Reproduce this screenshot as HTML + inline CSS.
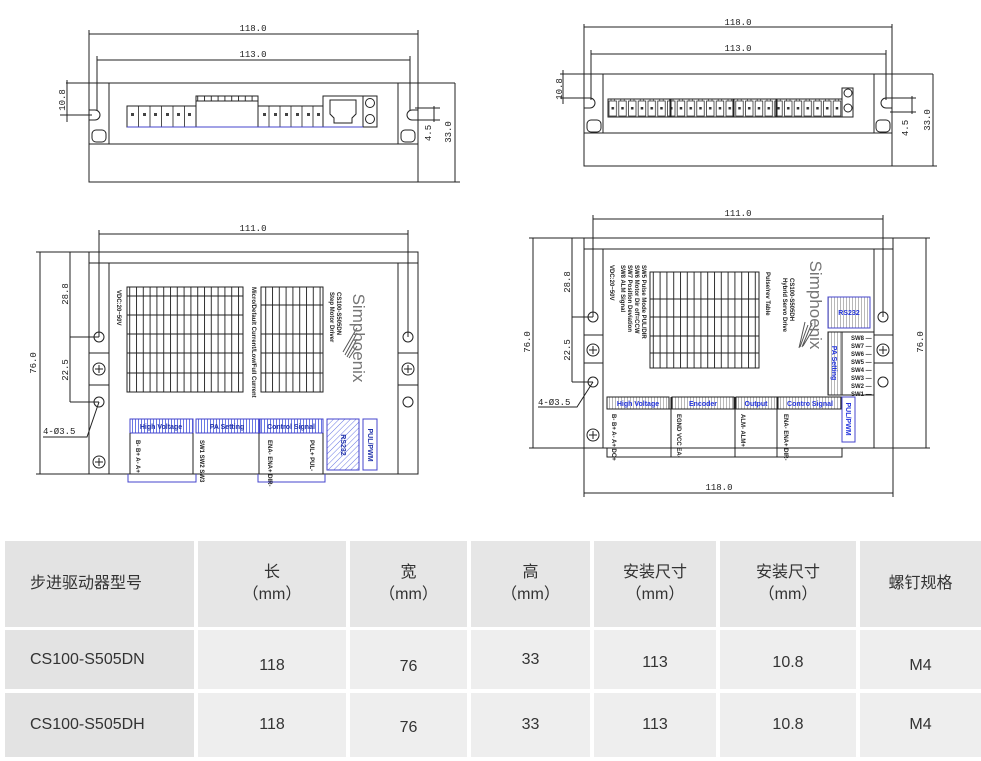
<!DOCTYPE html>
<html><head><meta charset="utf-8"><style>
body{margin:0;width:981px;height:761px;background:#fff;overflow:hidden;position:relative;font-family:"Liberation Sans","Noto Sans CJK SC",sans-serif}
svg{position:absolute;left:0;top:0}
.c{position:absolute;display:flex;align-items:center;justify-content:center;text-align:center;color:#333;font-size:16px;line-height:22px}
</style></head><body>
<svg width="981" height="530" viewBox="0 0 981 530">
<defs>
<pattern id="vl" width="6.8" height="10" patternUnits="userSpaceOnUse"><line x1="0.5" y1="0" x2="0.5" y2="10" stroke="#333" stroke-width="1"/></pattern>
<pattern id="bh" width="3" height="10" patternUnits="userSpaceOnUse"><line x1="0.5" y1="0" x2="0.5" y2="10" stroke="#4455dd" stroke-width="0.8"/></pattern>
<pattern id="gh" width="3" height="10" patternUnits="userSpaceOnUse"><line x1="0.5" y1="0" x2="0.5" y2="10" stroke="#999" stroke-width="0.7"/></pattern>
<pattern id="dh" width="4" height="4" patternUnits="userSpaceOnUse" patternTransform="rotate(45)"><line x1="0" y1="0" x2="0" y2="4" stroke="#4455dd" stroke-width="0.8"/></pattern>
<pattern id="tx" x="608" y="97" width="9.75" height="20" patternUnits="userSpaceOnUse"><rect x="1" y="4" width="7.5" height="15" fill="none" stroke="#333" stroke-width="0.8"/><rect x="3.5" y="10" width="2.5" height="2.5" fill="#333"/><path d="M3 4 v-2 h3.5 v2" fill="none" stroke="#333" stroke-width="0.7"/></pattern>
</defs>
<g fill="none" stroke="#222" stroke-width="1" font-family="Liberation Mono, monospace" font-size="9">
<!-- TOP LEFT -->
<line x1="89" y1="34" x2="418" y2="34"/><line x1="89" y1="30" x2="89" y2="182"/><line x1="418" y1="30" x2="418" y2="182"/>
<line x1="97" y1="60" x2="410" y2="60"/><line x1="97" y1="56" x2="97" y2="110"/><line x1="410" y1="56" x2="410" y2="110"/>
<line x1="66" y1="83" x2="455" y2="83"/>
<rect x="89" y="144" width="329" height="38"/>
<line x1="109" y1="83" x2="109" y2="144"/><line x1="398" y1="83" x2="398" y2="144"/>
<path d="M89 110 h6 a5 5 0 0 1 0 10 h-6"/><path d="M418 110 h-6 a5 5 0 0 0 0 10 h6"/>
<rect x="92" y="130" width="14" height="12" rx="4"/><rect x="401" y="130" width="14" height="12" rx="4"/>
<rect x="127" y="106" width="69" height="21"/><rect x="196" y="96" width="62" height="31"/><rect x="258" y="106" width="65" height="21"/><rect x="323" y="96" width="40" height="31"/>
<path d="M330 100 h26 v14 l-4 4 v5 h-18 v-5 l-4 -4 z"/>
<rect x="363" y="96" width="14" height="31"/><circle cx="370" cy="103" r="4.5"/><circle cx="370" cy="119" r="4.5"/>
<rect x="196" y="96" width="62" height="5" fill="url(#vl)"/>
<g stroke-width="0.8"><line x1="138.5" y1="106" x2="138.5" y2="127"/><line x1="150" y1="106" x2="150" y2="127"/><line x1="161.5" y1="106" x2="161.5" y2="127"/><line x1="173" y1="106" x2="173" y2="127"/><line x1="184.5" y1="106" x2="184.5" y2="127"/>
<line x1="269" y1="106" x2="269" y2="127"/><line x1="280" y1="106" x2="280" y2="127"/><line x1="291" y1="106" x2="291" y2="127"/><line x1="302" y1="106" x2="302" y2="127"/><line x1="313" y1="106" x2="313" y2="127"/></g>
<g fill="#444" stroke="none"><rect x="131" y="113" width="3" height="3"/><rect x="143" y="113" width="3" height="3"/><rect x="154" y="113" width="3" height="3"/><rect x="166" y="113" width="3" height="3"/><rect x="177" y="113" width="3" height="3"/><rect x="188" y="113" width="3" height="3"/><rect x="263" y="113" width="3" height="3"/><rect x="274" y="113" width="3" height="3"/><rect x="285" y="113" width="3" height="3"/><rect x="296" y="113" width="3" height="3"/><rect x="307" y="113" width="3" height="3"/><rect x="317" y="113" width="3" height="3"/></g>
<line x1="127" y1="127" x2="363" y2="127" stroke="#44c"/>
<line x1="67" y1="80" x2="67" y2="122"/><line x1="60" y1="115" x2="92" y2="115"/>
<line x1="434" y1="106" x2="434" y2="122"/><line x1="415" y1="108" x2="440" y2="108"/><line x1="415" y1="120" x2="440" y2="120"/>
<line x1="455" y1="83" x2="455" y2="182"/><line x1="418" y1="182" x2="460" y2="182"/>
<g fill="#222" stroke="none"><text x="253" y="31" text-anchor="middle">118.0</text><text x="253" y="57" text-anchor="middle">113.0</text>
<text transform="translate(65,100) rotate(-90)" text-anchor="middle">10.8</text><text transform="translate(431,133) rotate(-90)" text-anchor="middle">4.5</text><text transform="translate(451,132) rotate(-90)" text-anchor="middle">33.0</text></g>

<!-- TOP RIGHT -->
<line x1="584" y1="27" x2="892" y2="27"/><line x1="584" y1="24" x2="584" y2="166"/><line x1="892" y1="24" x2="892" y2="166"/>
<line x1="591" y1="54" x2="886" y2="54"/><line x1="591" y1="50" x2="591" y2="100"/><line x1="886" y1="50" x2="886" y2="100"/>
<line x1="560" y1="74" x2="933" y2="74"/>
<rect x="584" y="133" width="308" height="33"/>
<line x1="603" y1="74" x2="603" y2="133"/><line x1="874" y1="74" x2="874" y2="133"/>
<path d="M584 98 h6 a5 5 0 0 1 0 10 h-6"/><path d="M892 98 h-6 a5 5 0 0 0 0 10 h6"/>
<rect x="587" y="120" width="14" height="12" rx="4"/><rect x="876" y="120" width="14" height="12" rx="4"/>
<rect x="608" y="97" width="234" height="20" fill="url(#tx)" stroke="none"/>
<rect x="608" y="99" width="62" height="18"/><rect x="671" y="99" width="62" height="18"/><rect x="734" y="99" width="42" height="18"/><rect x="777" y="99" width="65" height="18"/>
<rect x="842" y="88" width="11" height="29"/><circle cx="848" cy="93" r="4"/><circle cx="848" cy="108" r="4"/>
<line x1="563" y1="70" x2="563" y2="104"/><line x1="560" y1="98" x2="587" y2="98"/>
<line x1="912" y1="96" x2="912" y2="114"/><line x1="890" y1="98" x2="916" y2="98"/><line x1="890" y1="112" x2="916" y2="112"/>
<line x1="933" y1="74" x2="933" y2="166"/><line x1="892" y1="166" x2="937" y2="166"/>
<g fill="#222" stroke="none"><text x="738" y="25" text-anchor="middle">118.0</text><text x="738" y="51" text-anchor="middle">113.0</text>
<text transform="translate(562,89) rotate(-90)" text-anchor="middle">10.8</text><text transform="translate(908,128) rotate(-90)" text-anchor="middle">4.5</text><text transform="translate(930,120) rotate(-90)" text-anchor="middle">33.0</text></g>

<!-- BOTTOM LEFT -->
<line x1="99" y1="234" x2="408" y2="234"/><line x1="99" y1="230" x2="99" y2="337"/><line x1="408" y1="230" x2="408" y2="337"/>
<rect x="89" y="252" width="329" height="222"/><line x1="89" y1="263" x2="418" y2="263"/>
<line x1="109" y1="263" x2="109" y2="474"/><line x1="398" y1="263" x2="398" y2="474"/>
<line x1="89" y1="353" x2="109" y2="353"/><line x1="89" y1="385" x2="109" y2="385"/><line x1="398" y1="353" x2="418" y2="353"/><line x1="398" y1="385" x2="418" y2="385"/>
<circle cx="99" cy="337" r="5"/><circle cx="99" cy="402" r="5"/><circle cx="408" cy="337" r="5"/><circle cx="408" cy="402" r="5"/>
<g><circle cx="99" cy="369" r="6"/><path d="M95 369h8M99 365v8"/><circle cx="99" cy="462" r="6"/><path d="M95 462h8M99 458v8"/><circle cx="408" cy="369" r="6"/><path d="M404 369h8M408 365v8"/></g>
<line x1="40" y1="252" x2="40" y2="474"/><line x1="36" y1="252" x2="89" y2="252"/><line x1="36" y1="474" x2="89" y2="474"/>
<line x1="70" y1="252" x2="70" y2="402"/><line x1="70" y1="337" x2="99" y2="337"/><line x1="70" y1="402" x2="99" y2="402"/>
<polyline points="43,437 87,437 99,402"/>
<rect x="127" y="287" width="116" height="105" fill="url(#vl)"/><rect x="127" y="287" width="116" height="105"/>
<line x1="127" y1="296" x2="243" y2="296"/><line x1="127" y1="315" x2="243" y2="315"/><line x1="127" y1="334" x2="243" y2="334"/><line x1="127" y1="353" x2="243" y2="353"/><line x1="127" y1="373" x2="243" y2="373"/>
<rect x="261" y="287" width="62" height="105" fill="url(#vl)"/><rect x="261" y="287" width="62" height="105"/>
<line x1="261" y1="305" x2="323" y2="305"/><line x1="261" y1="334" x2="323" y2="334"/><line x1="261" y1="353" x2="323" y2="353"/><line x1="261" y1="373" x2="323" y2="373"/>
<path d="M345 355 l12 -22 M347 357 l10 -18 M343 352 l14 -24 M349 358 l8 -12" stroke="#555"/>
<rect x="130" y="419" width="63" height="14" fill="url(#bh)" stroke="#44c"/><rect x="196" y="419" width="63" height="14" fill="url(#bh)" stroke="#44c"/><rect x="260" y="419" width="63" height="14" fill="url(#bh)" stroke="#44c"/>
<rect x="327" y="419" width="32" height="51" fill="url(#dh)" stroke="#44c"/><rect x="363" y="419" width="14" height="51" stroke="#44c"/>
<line x1="130" y1="433" x2="130" y2="474"/><line x1="193" y1="433" x2="193" y2="474"/><line x1="259" y1="433" x2="259" y2="474"/><line x1="323" y1="433" x2="323" y2="474"/>
<polyline points="128,474 128,482 196,482 196,474" stroke="#44c"/><polyline points="258,474 258,482 325,482 325,474" stroke="#44c"/>
<g fill="#222" stroke="none"><text x="253" y="231" text-anchor="middle">111.0</text>
<text transform="translate(36,363) rotate(-90)" text-anchor="middle">76.0</text><text transform="translate(68,294) rotate(-90)" text-anchor="middle">28.8</text><text transform="translate(68,370) rotate(-90)" text-anchor="middle">22.5</text>
<text x="43" y="434">4-Ø3.5</text>
<g font-family="Liberation Sans, sans-serif" font-weight="bold" font-size="7"><text x="161" y="429" text-anchor="middle" fill="#2233aa">High Voltage</text><text x="227" y="429" text-anchor="middle" fill="#2233aa">PA Setting</text><text x="291" y="429" text-anchor="middle" fill="#2233aa">Control Signal</text>
<text transform="translate(341,445) rotate(90)" text-anchor="middle" fill="#2233aa">RS232</text><text transform="translate(368,445) rotate(90)" text-anchor="middle" fill="#2233aa">PUL/PWM</text></g>
<text transform="translate(353,338) rotate(90)" text-anchor="middle" font-family="Liberation Sans, sans-serif" font-size="17" fill="#777">Simphoenix</text>
<g font-family="Liberation Sans, sans-serif" font-size="6" font-weight="bold"><text transform="translate(337,292) rotate(90)">CS100-S505DN</text><text transform="translate(330,292) rotate(90)">Step Motor Driver</text><text transform="translate(252,287) rotate(90)">Micro/Default Current/Low/Full Current</text><text transform="translate(117,290) rotate(90)">VDC:20~50V</text>
<text transform="translate(136,440) rotate(90)">B-  B+  A-  A+</text><text transform="translate(200,440) rotate(90)">SW1 SW2 SW3</text><text transform="translate(268,440) rotate(90)">ENA- ENA+ DIR-</text><text transform="translate(310,440) rotate(90)">PUL+ PUL-</text></g></g>

<!-- BOTTOM RIGHT -->
<line x1="593" y1="219" x2="883" y2="219"/><line x1="593" y1="215" x2="593" y2="317"/><line x1="883" y1="215" x2="883" y2="317"/>
<rect x="584" y="238" width="309" height="210"/><line x1="584" y1="249" x2="893" y2="249"/>
<line x1="603" y1="249" x2="603" y2="448"/><line x1="874" y1="249" x2="874" y2="448"/>
<line x1="584" y1="335" x2="603" y2="335"/><line x1="584" y1="363" x2="603" y2="363"/><line x1="874" y1="335" x2="893" y2="335"/><line x1="874" y1="363" x2="893" y2="363"/>
<circle cx="593" cy="317" r="5"/><circle cx="593" cy="382" r="5"/><circle cx="883" cy="317" r="5"/><circle cx="883" cy="382" r="5"/>
<circle cx="593" cy="350" r="6"/><path d="M589 350h8M593 346v8"/><circle cx="593" cy="435" r="6"/><path d="M589 435h8M593 431v8"/><circle cx="883" cy="350" r="6"/><path d="M879 350h8M883 346v8"/>
<line x1="533" y1="238" x2="533" y2="448"/><line x1="529" y1="238" x2="584" y2="238"/><line x1="529" y1="448" x2="584" y2="448"/>
<line x1="926" y1="238" x2="926" y2="448"/><line x1="893" y1="238" x2="930" y2="238"/><line x1="893" y1="448" x2="930" y2="448"/>
<line x1="572" y1="238" x2="572" y2="382"/><line x1="572" y1="317" x2="593" y2="317"/><line x1="572" y1="382" x2="593" y2="382"/>
<polyline points="538,407 577,407 593,382"/>
<line x1="584" y1="448" x2="584" y2="497"/><line x1="893" y1="448" x2="893" y2="497"/><line x1="584" y1="493" x2="893" y2="493"/>
<rect x="650" y="272" width="109" height="96" fill="url(#vl)"/><rect x="650" y="272" width="109" height="96"/>
<line x1="650" y1="299" x2="759" y2="299"/><line x1="650" y1="317" x2="759" y2="317"/><line x1="650" y1="336" x2="759" y2="336"/><line x1="650" y1="353" x2="759" y2="353"/>
<path d="M808 325 l-8 22 M812 323 l-10 24 M815 326 l-12 20 M805 322 l-6 26" stroke="#555"/>
<rect x="828" y="297" width="42" height="31" fill="url(#gh)" stroke="#44c"/>
<rect x="828" y="332" width="14" height="63" fill="url(#gh)"/><rect x="842" y="332" width="32" height="63"/>
<rect x="607" y="397" width="62" height="12" fill="url(#gh)"/><rect x="672" y="397" width="62" height="12" fill="url(#gh)"/><rect x="736" y="397" width="41" height="12" fill="url(#gh)"/><rect x="778" y="397" width="63" height="12" fill="url(#gh)"/>
<rect x="842" y="397" width="13" height="45" stroke="#44c"/>
<line x1="607" y1="409" x2="841" y2="409"/><line x1="671" y1="397" x2="671" y2="457"/><line x1="735" y1="397" x2="735" y2="457"/><line x1="777" y1="397" x2="777" y2="457"/>
<polyline points="607,448 607,457 842,457 842,448"/>
<g fill="#222" stroke="none"><text x="738" y="216" text-anchor="middle">111.0</text><text x="719" y="490" text-anchor="middle">118.0</text>
<text transform="translate(530,342) rotate(-90)" text-anchor="middle">76.0</text><text transform="translate(923,342) rotate(-90)" text-anchor="middle">76.0</text>
<text transform="translate(570,282) rotate(-90)" text-anchor="middle">28.8</text><text transform="translate(570,350) rotate(-90)" text-anchor="middle">22.5</text>
<text x="538" y="405">4-Ø3.5</text>
<g font-family="Liberation Sans, sans-serif" font-weight="bold" font-size="7" fill="#2233dd"><text x="638" y="406" text-anchor="middle">High Voltage</text><text x="703" y="406" text-anchor="middle">Encoder</text><text x="756" y="406" text-anchor="middle">Output</text><text x="810" y="406" text-anchor="middle">Contro Signal</text>
<text x="849" y="315" text-anchor="middle">RS232</text><text transform="translate(832,363) rotate(90)" text-anchor="middle">PA Setting</text><text transform="translate(846,419) rotate(90)" text-anchor="middle">PUL/PWM</text></g>
<text transform="translate(810,305) rotate(90)" text-anchor="middle" font-family="Liberation Sans, sans-serif" font-size="17" fill="#777">Simphoenix</text>
<g font-family="Liberation Sans, sans-serif" font-size="6" font-weight="bold"><text transform="translate(790,278) rotate(90)">CS100-S505DH</text><text transform="translate(783,278) rotate(90)">Hybrid Servo Drive</text><text transform="translate(766,272) rotate(90)">Pulse/rev Table</text>
<text transform="translate(642,265) rotate(90)">SW5 Pulse Mode  PUL/DIR</text><text transform="translate(635,265) rotate(90)">SW6 Motor Dir  off=CCW</text><text transform="translate(628,265) rotate(90)">SW7 Position Deviation</text><text transform="translate(621,265) rotate(90)">SW8 ALM Signal</text><text transform="translate(610,265) rotate(90)">VDC:20~50V</text>
<text x="851" y="340">SW8 —</text><text x="851" y="348">SW7 —</text><text x="851" y="356">SW6 —</text><text x="851" y="364">SW5 —</text><text x="851" y="372">SW4 —</text><text x="851" y="380">SW3 —</text><text x="851" y="388">SW2 —</text><text x="851" y="396">SW1 —</text>
<text transform="translate(612,414) rotate(90)">B-  B+  A-  A+  DC+</text><text transform="translate(677,414) rotate(90)">EGND VCC EA-</text><text transform="translate(741,414) rotate(90)">ALM- ALM+</text><text transform="translate(784,414) rotate(90)">ENA- ENA+ DIR-</text></g></g>
</g>
</svg>

<!-- TABLE -->
<div style="position:absolute;left:0;top:538px;width:981px;height:223px;background:#fff"></div>
<div class="c" style="left:5px;top:541px;width:189px;height:86px;background:#e3e3e3;justify-content:flex-start;padding-left:25px;box-sizing:border-box">步进驱动器型号</div>
<div class="c" style="left:198px;top:541px;width:148px;height:86px;background:#e6e6e6">长<br>（mm）</div>
<div class="c" style="left:350px;top:541px;width:117px;height:86px;background:#e6e6e6">宽<br>（mm）</div>
<div class="c" style="left:471px;top:541px;width:119px;height:86px;background:#e6e6e6">高<br>（mm）</div>
<div class="c" style="left:594px;top:541px;width:122px;height:86px;background:#e6e6e6">安装尺寸<br>（mm）</div>
<div class="c" style="left:720px;top:541px;width:136px;height:86px;background:#e6e6e6">安装尺寸<br>（mm）</div>
<div class="c" style="left:860px;top:541px;width:121px;height:86px;background:#e6e6e6">螺钉规格</div>

<div class="c" style="left:5px;top:630px;width:189px;height:59px;background:#e3e3e3;justify-content:flex-start;padding-left:25px;box-sizing:border-box">CS100-S505DN</div>
<div class="c" style="left:198px;top:630px;width:148px;height:59px;background:#eeeeee;padding-top:12px;box-sizing:border-box">118</div>
<div class="c" style="left:350px;top:630px;width:117px;height:59px;background:#eeeeee;padding-top:14px;box-sizing:border-box">76</div>
<div class="c" style="left:471px;top:630px;width:119px;height:59px;background:#eeeeee">33</div>
<div class="c" style="left:594px;top:630px;width:122px;height:59px;background:#eeeeee;padding-top:6px;box-sizing:border-box">113</div>
<div class="c" style="left:720px;top:630px;width:136px;height:59px;background:#eeeeee;padding-top:6px;box-sizing:border-box">10.8</div>
<div class="c" style="left:860px;top:630px;width:121px;height:59px;background:#eeeeee;padding-top:12px;box-sizing:border-box">M4</div>

<div class="c" style="left:5px;top:693px;width:189px;height:64px;background:#e3e3e3;justify-content:flex-start;padding-left:25px;box-sizing:border-box">CS100-S505DH</div>
<div class="c" style="left:198px;top:693px;width:148px;height:64px;background:#eeeeee">118</div>
<div class="c" style="left:350px;top:693px;width:117px;height:64px;background:#eeeeee;padding-top:6px;box-sizing:border-box">76</div>
<div class="c" style="left:471px;top:693px;width:119px;height:64px;background:#eeeeee">33</div>
<div class="c" style="left:594px;top:693px;width:122px;height:64px;background:#eeeeee">113</div>
<div class="c" style="left:720px;top:693px;width:136px;height:64px;background:#eeeeee">10.8</div>
<div class="c" style="left:860px;top:693px;width:121px;height:64px;background:#eeeeee">M4</div>
</body></html>
